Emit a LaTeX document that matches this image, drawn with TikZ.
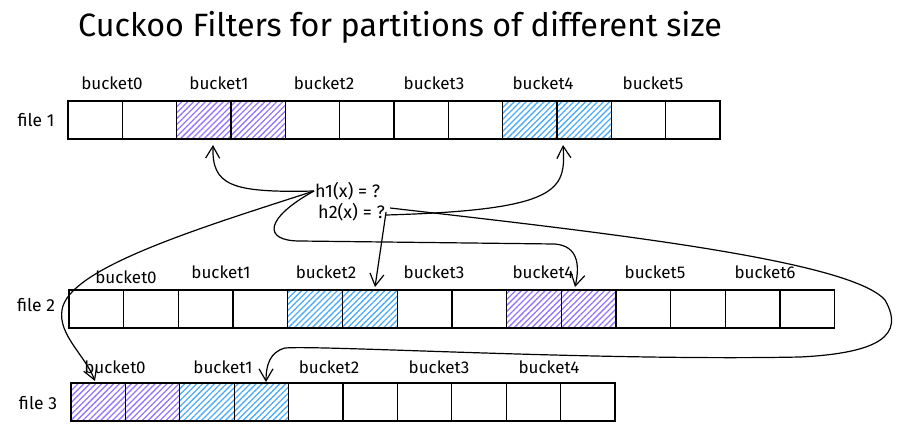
\documentclass[tikz,border=0pt]{standalone}
\usepackage{fontspec}
\setmainfont{Fira Sans}
\usetikzlibrary{arrows.meta,patterns.meta}
\definecolor{hpurple}{HTML}{9775FA}
\definecolor{hblue}{HTML}{4DABF7}
\tikzset{
  cell/.style={draw=black,line width=1.3pt,minimum height=38pt,inner sep=0pt,outer sep=0pt},
  pcell/.style={cell,pattern={Lines[angle=45,distance=4.2pt,line width=1.3pt]},pattern color=hpurple},
  bcell/.style={cell,pattern={Lines[angle=45,distance=4.2pt,line width=1.3pt]},pattern color=hblue},
  blabel/.style={font=\fontsize{17}{19}\selectfont,inner sep=0pt},
  flabel/.style={font=\fontsize{17.5}{19}\selectfont,inner sep=0pt},
  hlabel/.style={font=\fontsize{18}{20}\selectfont,inner sep=1pt},
  conn/.style={line width=1.2pt,-{Straight Barb[length=12pt,width=14pt,line width=1.2pt]}},
}
\begin{document}
\begin{tikzpicture}[x=1pt,y=-1pt]
\useasboundingbox (0,0) rectangle (902,432);
% title
\node[font=\fontsize{32.3}{34}\selectfont,anchor=west,inner sep=0pt] (title) at (78,27) {Cuckoo Filters for partitions of different size};
% row 1
\foreach \i in {1,...,12}{
  \pgfmathsetmacro{\cx}{68+(\i-0.5)*54.33}
  \ifnum\i=3 \def\st{pcell}\else\ifnum\i=4 \def\st{pcell}\else
  \ifnum\i=9 \def\st{bcell}\else\ifnum\i=10 \def\st{bcell}\else\def\st{cell}\fi\fi\fi\fi
  \node[\st,minimum width=54.33pt] (ra\i) at (\cx,120) {};
}
% row 2
\foreach \i in {1,...,14}{
  \pgfmathsetmacro{\cx}{69+(\i-0.5)*54.7}
  \ifnum\i=5 \def\st{bcell}\else\ifnum\i=6 \def\st{bcell}\else
  \ifnum\i=9 \def\st{pcell}\else\ifnum\i=10 \def\st{pcell}\else\def\st{cell}\fi\fi\fi\fi
  \node[\st,minimum width=54.7pt] (rb\i) at (\cx,309) {};
}
% row 3
\foreach \i in {1,...,10}{
  \pgfmathsetmacro{\cx}{71+(\i-0.5)*54.4}
  \ifnum\i=1 \def\st{pcell}\else\ifnum\i=2 \def\st{pcell}\else
  \ifnum\i=3 \def\st{bcell}\else\ifnum\i=4 \def\st{bcell}\else\def\st{cell}\fi\fi\fi\fi
  \node[\st,minimum width=54.4pt] (rc\i) at (\cx,402) {};
}
% file labels
\node[flabel] (f1) at (36,120) {file 1};
\node[flabel] (f2) at (36,305) {file 2};
\node[flabel] (f3) at (38,403) {file 3};
% bucket labels row 1
\node[blabel] (la0) at (112,83) {bucket0};
\node[blabel] (la1) at (219,83) {bucket1};
\node[blabel] (la2) at (324,83) {bucket2};
\node[blabel] (la3) at (434,83) {bucket3};
\node[blabel] (la4) at (543,83) {bucket4};
\node[blabel] (la5) at (653,83) {bucket5};
% bucket labels row 2
\node[blabel] (lb0) at (126,277) {bucket0};
\node[blabel] (lb1) at (221,272) {bucket1};
\node[blabel] (lb2) at (326,272) {bucket2};
\node[blabel] (lb3) at (434,272) {bucket3};
\node[blabel] (lb4) at (543,272) {bucket4};
\node[blabel] (lb5) at (655,272) {bucket5};
\node[blabel] (lb6) at (765,272) {bucket6};
% bucket labels row 3
\node[blabel] (lc0) at (115,367) {bucket0};
\node[blabel] (lc1) at (223,367) {bucket1};
\node[blabel] (lc2) at (329,367) {bucket2};
\node[blabel] (lc3) at (439,367) {bucket3};
\node[blabel] (lc4) at (549,367) {bucket4};
% hash labels
\node[hlabel,anchor=west] (h1) at (314,191) {h1(x) = ?};
\node[hlabel,anchor=west] (h2) at (317,212) {h2(x) = ?};
% arrow end points
\coordinate (t1) at (213,145);
\coordinate (t2) at (563,145);
\coordinate (t3) at (95,381);
\coordinate (t4) at (575,287);
\coordinate (t5) at (375,287);
\coordinate (t6) at (266,382);
% connectors
\draw[conn] (h1.west) .. controls (230,193) and (212,185) .. (t1);
\draw[conn] ([yshift=-3pt]h2.east) .. controls (560,210) and (566,190) .. (t2);
\draw[conn] (h1.west) .. controls (200,228) and (68,268) .. (62,310) .. controls (58,335) and (85,355) .. (t3);
\draw[conn] (h1.west) .. controls (265,218) and (262,241) .. (300,241) -- (555,244) .. controls (578,246) and (580,265) .. (t4);
\draw[conn] (h2.east) -- (t5);
\draw[conn] ([xshift=4pt,yshift=4pt]h2.east) .. controls (600,232) and (850,260) .. (885,300) .. controls (905,335) and (880,353) .. (800,357) .. controls (600,361) and (320,345) .. (285,348) .. controls (270,352) and (266,365) .. (t6);
\end{tikzpicture}
\end{document}
